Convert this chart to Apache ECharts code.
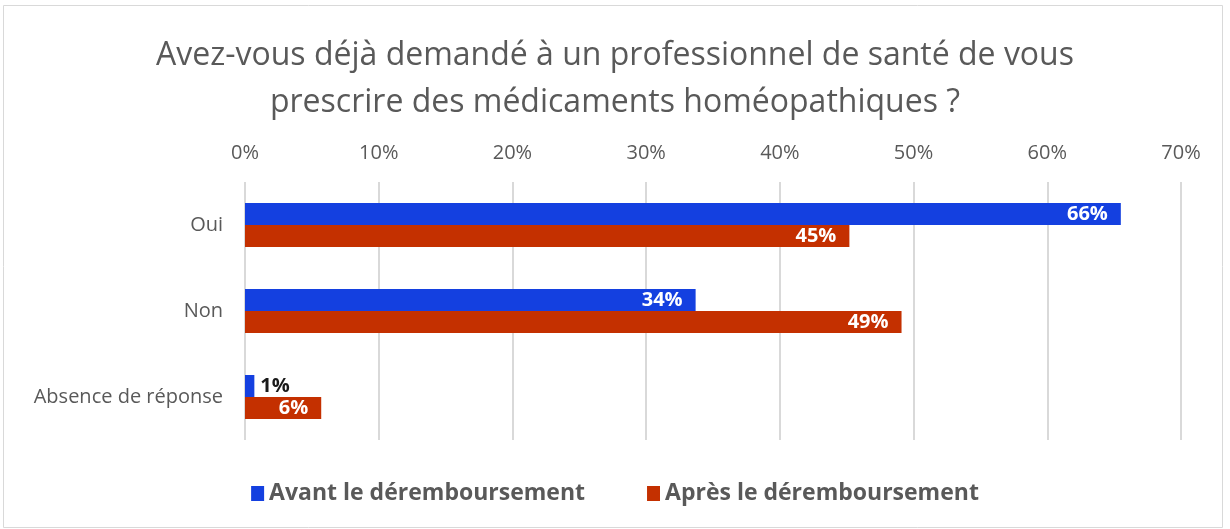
<!DOCTYPE html>
<html>
<head>
<meta charset="utf-8">
<script src="https://cdn.jsdelivr.net/npm/echarts@6/dist/echarts.min.js"></script>
<style>
  html, body { margin: 0; padding: 0; background: #fff; }
  #chart { width: 1230px; height: 529px; }
</style>
</head>
<body>
<div id="chart"></div>
<script>
  // données
  var categories = ['Oui', 'Non', 'Absence de réponse'];
  var avant = [65.5, 33.7, 0.7];
  var apres = [45.2, 49.1, 5.7];
  var seriesNames = ['Avant le déremboursement', 'Après le déremboursement'];
  var xTicks = [0, 10, 20, 30, 40, 50, 60, 70];

  var font = '"Open Sans", "Liberation Sans", sans-serif';
  var grey = '#595959';

  var chart = echarts.init(document.getElementById('chart'));

  function labelFor(v) {
    // le 1% ne tient pas dans sa barre : on le met à droite, en noir
    if (v < 3) {
      return { value: v, label: { position: 'right', color: '#1a1a1a', distance: 6 } };
    }
    return v;
  }

  chart.setOption({
    animation: false,
    textStyle: { fontFamily: font },
    title: {
      text: 'Avez-vous déjà demandé à un professionnel de santé de vous\nprescrire des médicaments homéopathiques ?',
      left: 'center',
      top: 27,
      textStyle: {
        fontFamily: font,
        fontSize: 32,
        fontWeight: 'normal',
        color: grey,
        lineHeight: 47
      }
    },
    legend: {
      data: seriesNames,
      bottom: 19,
      left: 'center',
      itemWidth: 13,
      itemHeight: 15,
      itemGap: 62,
      icon: 'rect',
      textStyle: { fontFamily: font, fontSize: 23, fontWeight: 'bold', color: grey }
    },
    grid: { left: 245, right: 49, top: 182, bottom: 89 },
    xAxis: {
      type: 'value',
      position: 'top',
      min: 0,
      max: 70,
      interval: 10,
      axisLine: { show: false },
      axisTick: { show: false },
      splitLine: { lineStyle: { color: '#d9d9d9', width: 2 } },
      axisLabel: {
        fontFamily: font, fontSize: 20, color: grey, margin: 19,
        formatter: function (v) { return xTicks.indexOf(v) >= 0 ? v + '%' : ''; }
      }
    },
    yAxis: {
      type: 'category',
      data: categories,
      inverse: true,
      axisLine: { show: false },
      axisTick: { show: false },
      axisLabel: { fontFamily: font, fontSize: 20, color: grey, margin: 22 }
    },
    series: [
      {
        name: seriesNames[0],
        type: 'bar',
        data: avant.map(labelFor),
        barWidth: 22,
        barGap: '0%',
        itemStyle: { color: '#1440E0' },
        label: {
          show: true, position: 'insideRight', color: '#fff',
          fontFamily: font, fontSize: 20, fontWeight: 'bold', distance: 13,
          formatter: function (p) { return Math.round(p.value) + '%'; }
        }
      },
      {
        name: seriesNames[1],
        type: 'bar',
        data: apres.map(labelFor),
        barWidth: 22,
        itemStyle: { color: '#C43000' },
        label: {
          show: true, position: 'insideRight', color: '#fff',
          fontFamily: font, fontSize: 20, fontWeight: 'bold', distance: 13,
          formatter: function (p) { return Math.round(p.value) + '%'; }
        }
      }
    ],
    graphic: [{
      type: 'rect',
      shape: { x: 3.5, y: 5.5, width: 1219, height: 522 },
      style: { fill: 'none', stroke: '#d9d9d9', lineWidth: 1 },
      silent: true
    }]
  });
</script>
</body>
</html>
